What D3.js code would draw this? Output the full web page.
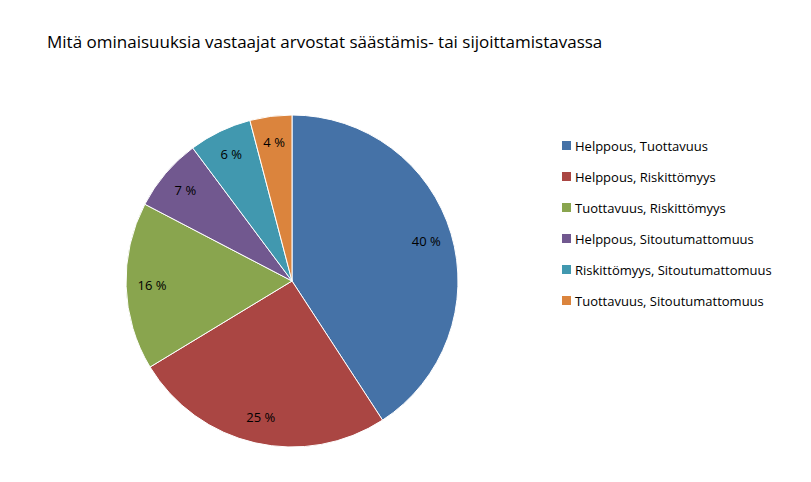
<!DOCTYPE html>
<html>
<head>
<meta charset="utf-8">
<script src="https://cdn.jsdelivr.net/npm/d3@7"></script>
<style>
  body { margin: 0; background: #fff; }
  text { font-family: "Open Sans", "DejaVu Sans", sans-serif; fill: #000; }
  .title { font-size: 17px; }
  .label { font-size: 13px; }
  .legend { font-size: 13px; }
</style>
</head>
<body>
<svg width="811" height="482"></svg>
<script>
const categories = [
  "Helppous, Tuottavuus",
  "Helppous, Riskittömyys",
  "Tuottavuus, Riskittömyys",
  "Helppous, Sitoutumattomuus",
  "Riskittömyys, Sitoutumattomuus",
  "Tuottavuus, Sitoutumattomuus"
]
const values = [40, 25, 16, 7, 6, 4]
const colors = ["#4572A7", "#AA4643", "#89A54E", "#71588F", "#4198AF", "#DB843D"]

const svg = d3.select("svg")

svg.append("text")
  .attr("class", "title")
  .attr("x", 47)
  .attr("y", 48)
  .text("Mitä ominaisuuksia vastaajat arvostat säästämis- tai sijoittamistavassa")

const radius = 166
const pie = d3.pie().sort(null)
const arc = d3.arc().innerRadius(0).outerRadius(radius)
const labelArc = d3.arc().innerRadius(140).outerRadius(140)

const g = svg.append("g")
  .attr("transform", "translate(292, 281)")

const slices = g.selectAll("g.slice")
  .data(pie(values))
  .enter()
  .append("g")
  .attr("class", "slice")

slices.append("path")
  .attr("d", arc)
  .style("fill", (d, i) => { return colors[i] })
  .style("stroke", "#fff")
  .style("stroke-width", 1)

slices.append("text")
  .attr("class", "label")
  .attr("transform", d => `translate(${labelArc.centroid(d)})`)
  .attr("text-anchor", "middle")
  .attr("dy", "0.35em")
  .text(d => d.data + " %")

const legend = svg.selectAll("g.legend")
  .data(categories)
  .enter()
  .append("g")
  .attr("class", "legend")
  .attr("transform", (d, i) => { return `translate(562, ${146 + i * 31})` })

legend.append("rect")
  .attr("x", 0)
  .attr("y", -5)
  .attr("width", 9)
  .attr("height", 9)
  .style("fill", (d, i) => { return colors[i] })

legend.append("text")
  .attr("x", 13)
  .attr("dy", "0.35em")
  .text(d => d)
</script>
</body>
</html>
